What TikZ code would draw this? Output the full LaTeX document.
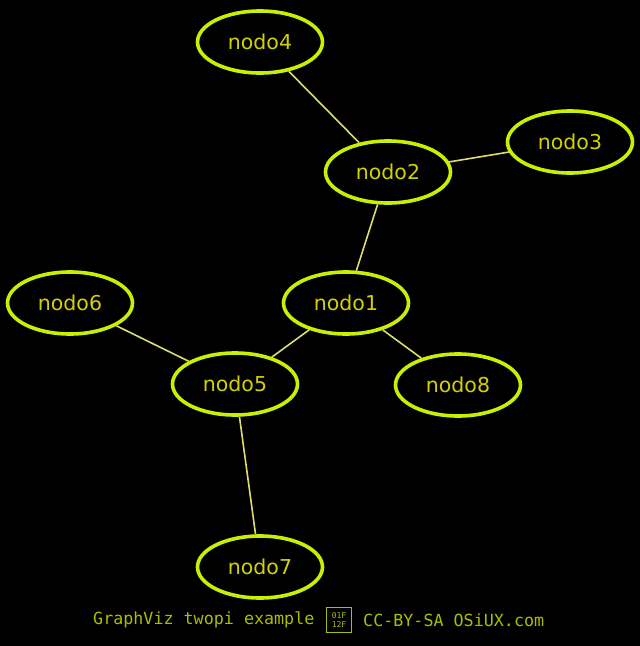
\documentclass[tikz,border=0pt]{standalone}
\usepackage{fontspec}
\setmainfont{DejaVu Sans}
\newfontfamily\footfont{DejaVu Sans Mono}
\usetikzlibrary{shapes.geometric}
\definecolor{nodeline}{RGB}{204,238,0}
\definecolor{nodetext}{RGB}{210,210,0}
\definecolor{edgecol}{RGB}{222,222,110}
\definecolor{foottext}{RGB}{170,190,0}
\tikzset{
  gnode/.style={ellipse, draw=nodeline, line width=3.6pt, minimum width=125pt, minimum height=62pt,
    text=nodetext, font=\fontsize{20.5}{20.5}\selectfont, inner sep=0pt},
  gedge/.style={draw=edgecol, line width=1.6pt},
}
\begin{document}
\begin{tikzpicture}[x=1pt,y=-1pt]
\fill[black] (0,0) rectangle (640,646);
\useasboundingbox (0,0) rectangle (640,646);
\node[gnode] (n4) at (260,42) {nodo4};
\node[gnode] (n2) at (388,172) {nodo2};
\node[gnode] (n3) at (570,142) {nodo3};
\node[gnode] (n1) at (346,303) {nodo1};
\node[gnode] (n6) at (70,303) {nodo6};
\node[gnode] (n5) at (235,384) {nodo5};
\node[gnode] (n8) at (458,385) {nodo8};
\node[gnode] (n7) at (260,567) {nodo7};
\draw[gedge] (n4) -- (n2);
\draw[gedge] (n2) -- (n3);
\draw[gedge] (n2) -- (n1);
\draw[gedge] (n1) -- (n5);
\draw[gedge] (n1) -- (n8);
\draw[gedge] (n5) -- (n6);
\draw[gedge] (n5) -- (n7);
\node[anchor=west, text=foottext, font=\footfont\fontsize{16.7}{16.7}\selectfont, inner sep=0pt] (foot1) at (93,620) {GraphViz twopi example};
\node[draw=foottext, line width=1.3pt, text=foottext, font=\footfont\fontsize{8}{8.5}\selectfont, align=center, inner sep=1.2pt, minimum width=25pt, minimum height=25pt] (box) at (339,620) {01F\\12F};
\node[anchor=west, text=foottext, font=\footfont\fontsize{16.7}{16.7}\selectfont, inner sep=0pt] (foot2) at (363,620) {CC-BY-SA OSiUX.com};
\end{tikzpicture}
\end{document}
